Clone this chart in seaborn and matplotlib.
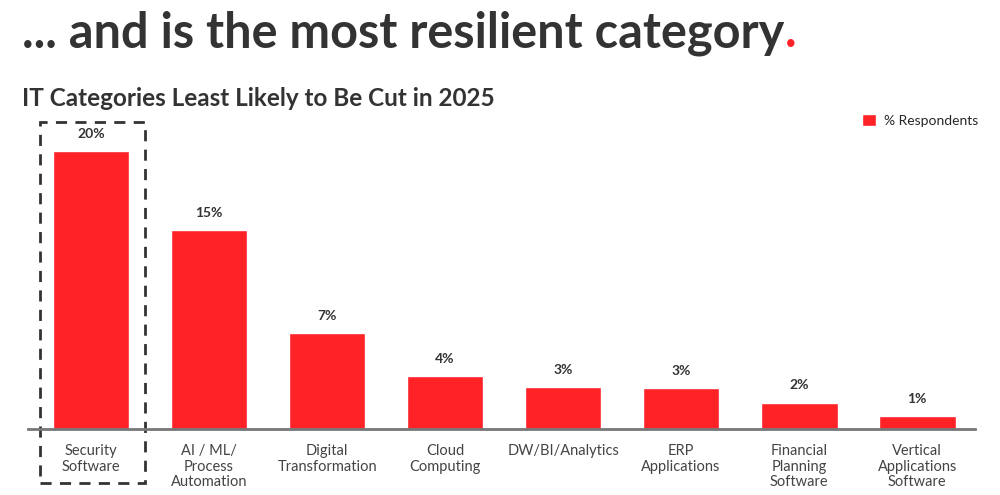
import pandas as pd
import seaborn as sns
import matplotlib.pyplot as plt
from matplotlib.patches import Rectangle

# Chart data
categories = ['Security\nSoftware', 'AI / ML/\nProcess\nAutomation', 'Digital\nTransformation',
              'Cloud\nComputing', 'DW/BI/Analytics', 'ERP\nApplications',
              'Financial\nPlanning\nSoftware', 'Vertical\nApplications\nSoftware']
values = [20, 14.3, 6.9, 3.8, 3.0, 2.95, 1.9, 0.95]
value_labels = ['20%', '15%', '7%', '4%', '3%', '3%', '2%', '1%']
series_name = '% Respondents'

data = pd.DataFrame({'Category': categories, 'Value': values})

red = '#FF2227'
dark = '#333333'

sns.set_theme(style='white')
plt.rcParams['font.family'] = ['Lato', 'DejaVu Sans']

fig = plt.figure(figsize=(10, 4.95), dpi=100)
ax = fig.add_axes([0.028, 0.1333, 0.947, 0.6346])

sns.barplot(x='Category', y='Value', data=data, color=red, width=0.65,
            saturation=1, label=series_name, ax=ax)

ax.set_xlim(-0.534, 7.49)
ax.set_ylim(0, 22.6)
for side in ['top', 'right', 'left']:
    ax.spines[side].set_visible(False)
ax.spines['bottom'].set_color('#777777')
ax.spines['bottom'].set_linewidth(2)
ax.set_yticks([])
ax.set_xlabel('')
ax.set_ylabel('')
ax.tick_params(axis='x', length=0, pad=11, labelsize=10.5, labelcolor='#444444')
for t in ax.get_xticklabels():
    t.set_linespacing(1.12)

# value labels above bars
for i, (v, lab) in enumerate(zip(values, value_labels)):
    ax.text(i, v + 0.8, lab, ha='center', va='bottom', fontsize=10,
            fontweight='bold', color=dark)

# dashed highlight box around the first category
ax.add_patch(Rectangle((-0.432, -3.88), 0.89, 25.97, fill=False, linestyle=(0, (4, 3)),
                       linewidth=2, edgecolor=dark, clip_on=False))

leg = ax.legend(loc='upper left', bbox_to_anchor=(0.862, 0.77), bbox_transform=fig.transFigure,
                frameon=False, fontsize=10, handlelength=1.0, handleheight=1.0,
                handletextpad=0.6, borderpad=0, borderaxespad=0)

title = fig.text(0.022, 0.905, '... and is the most resilient category', fontsize=35,
                 fontweight='bold', color=dark, va='baseline')
fig.text(0.022, 0.785, 'IT Categories Least Likely to Be Cut in 2025', fontsize=17.5,
         fontweight='bold', color=dark, va='baseline')

# red full stop right after the headline
fig.canvas.draw()
bb = title.get_window_extent().transformed(fig.transFigure.inverted())
fig.text(bb.x1 + 0.001, 0.905, '.', fontsize=35, fontweight='bold', color=red, va='baseline')

fig.savefig('out.png', dpi=100)
